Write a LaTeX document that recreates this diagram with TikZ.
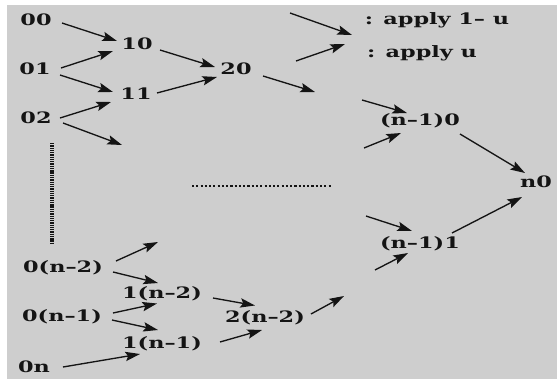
\documentclass[tikz,border=0pt]{standalone}
\usepackage{fontspec}
\setmainfont{DejaVu Serif}
\usetikzlibrary{arrows.meta}
\definecolor{bg}{RGB}{206,206,206}
\definecolor{ink}{RGB}{20,20,20}
\newcommand\sx[1]{\scalebox{1.42}[1]{#1}}
\tikzset{
  lbl/.style={font=\fontsize{11.8}{14}\selectfont\bfseries, text=ink, inner sep=0pt},
  arr/.style={draw=ink, line width=1pt, -{Stealth[length=11pt,width=7pt,inset=2pt]}},
  vdots/.style={draw=ink, line width=3.6pt, dash pattern=on 1pt off 0.7pt},
  hdots/.style={draw=ink, line width=2.2pt, dash pattern=on 1.6pt off 1.6pt}
}
\begin{document}
\begin{tikzpicture}[x=0.75pt,y=-0.75pt]
\useasboundingbox (0,0) rectangle (557,379);
\fill[white] (0,0) rectangle (557,379);
\fill[bg] (7,5) rectangle (557,379);
% nodes
\node[lbl] (n00) at (36,20) {\sx{00}};
\node[lbl] (n10) at (137,44) {\sx{10}};
\node[lbl] (n01) at (35,69) {\sx{01}};
\node[lbl] (n11) at (136,94) {\sx{11}};
\node[lbl] (n20) at (236,69) {\sx{20}};
\node[lbl] (n02) at (36,118) {\sx{02}};
\node[lbl] (la) at (437,20) {\sx{: apply 1– u}};
\node[lbl] (lb) at (422,53) {\sx{: apply u}};
\node[lbl] (nn10) at (420,121) {\sx{(n–1)0}};
\node[lbl] (nn0) at (536,182) {\sx{n0}};
\node[lbl] (nn11) at (420,244) {\sx{(n–1)1}};
\node[lbl] (m02) at (63,268) {\sx{0(n–2)}};
\node[lbl] (m12) at (162,293.5) {\sx{1(n–2)}};
\node[lbl] (m01) at (62,317) {\sx{0(n–1)}};
\node[lbl] (m11) at (162,343.5) {\sx{1(n–1)}};
\node[lbl] (m0n) at (34,367) {\sx{0n}};
\node[lbl] (m22) at (265,318) {\sx{2(n–2)}};
% free ends
\coordinate (f02) at (122,145);
\coordinate (f20) at (315,92);
\coordinate (fa) at (290,13);
\coordinate (fb) at (296,61);
\coordinate (g1) at (362,100);
\coordinate (g2) at (364,148);
\coordinate (g3) at (366,216);
\coordinate (g4) at (375,270);
\coordinate (f22) at (344,296);
\coordinate (fm02) at (158,242);
\coordinate (va) at (52,143);
\coordinate (vb) at (52,243);
\coordinate (ha) at (192,186);
\coordinate (hb) at (331,186);
% dotted lines
\draw[vdots] (va) -- (vb);
\draw[hdots] (ha) -- (hb);
% arrows
\draw[arr] ([shift={(26,3)}]n00.center) -- ([shift={(-20,-3)}]n10.center);
\draw[arr] ([shift={(26,-1)}]n01.center) -- ([shift={(-24,7)}]n10.center);
\draw[arr] ([shift={(25,6)}]n01.center) -- ([shift={(-23,-2)}]n11.center);
\draw[arr] ([shift={(24,0)}]n02.center) -- ([shift={(-25,8)}]n11.center);
\draw[arr] ([shift={(27,5)}]n02.center) -- (f02);
\draw[arr] ([shift={(23,6)}]n10.center) -- ([shift={(-21,-2)}]n20.center);
\draw[arr] ([shift={(21,-1)}]n11.center) -- ([shift={(-19,8)}]n20.center);
\draw[arr] ([shift={(27,7)}]n20.center) -- (f20);
\draw[arr] (fa) -- ([shift={(-85,15)}]la.center);
\draw[arr] (fb) -- ([shift={(-77,-9)}]lb.center);
\draw[arr] (g1) -- ([shift={(-13,-8)}]nn10.center);
\draw[arr] (g2) -- ([shift={(-19,12)}]nn10.center);
\draw[arr] ([shift={(40,13)}]nn10.center) -- ([shift={(-11,-9)}]nn0.center);
\draw[arr] (g3) -- ([shift={(-8,-13)}]nn11.center);
\draw[arr] (g4) -- ([shift={(-12,9)}]nn11.center);
\draw[arr] ([shift={(32,-11)}]nn11.center) -- ([shift={(-14,15)}]nn0.center);
\draw[arr] ([shift={(46,-4)}]m22.center) -- (f22);
\draw[arr] ([shift={(53,-7)}]m02.center) -- (fm02);
\draw[arr] ([shift={(50,4)}]m02.center) -- ([shift={(-4,-10.5)}]m12.center);
\draw[arr] ([shift={(51,-4)}]m01.center) -- ([shift={(-5,10)}]m12.center);
\draw[arr] ([shift={(50,3)}]m01.center) -- ([shift={(-4,-13.5)}]m11.center);
\draw[arr] ([shift={(29,0)}]m0n.center) -- ([shift={(-22,10.5)}]m11.center);
\draw[arr] ([shift={(51,4.5)}]m12.center) -- ([shift={(-10,-12.5)}]m22.center);
\draw[arr] ([shift={(58,-1.5)}]m11.center) -- ([shift={(-3,12)}]m22.center);
\end{tikzpicture}
\end{document}
